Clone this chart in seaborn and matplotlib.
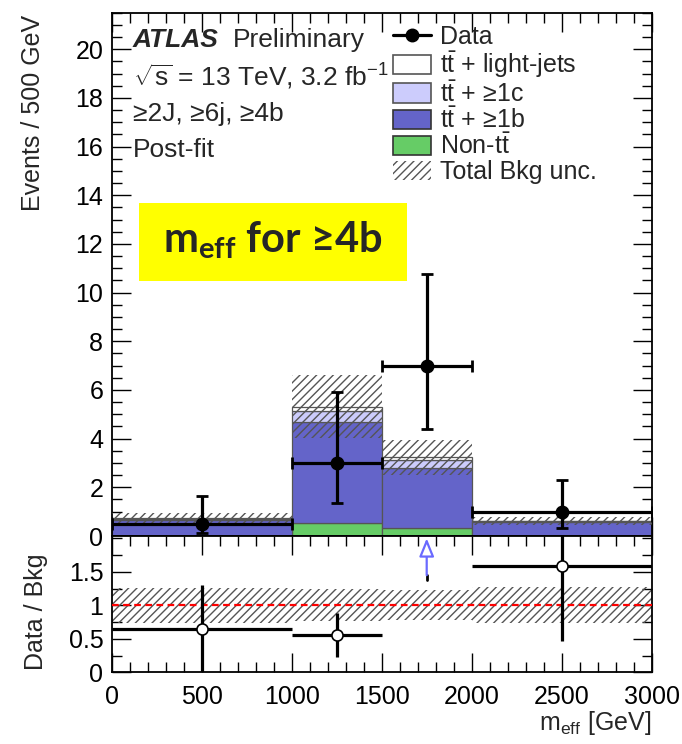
import numpy as np
import pandas as pd
import seaborn as sns
import matplotlib
matplotlib.use("Agg")
import matplotlib.pyplot as plt
from matplotlib.patches import Patch, Rectangle
from matplotlib.lines import Line2D
from matplotlib.ticker import MultipleLocator

# ---- data (events / 500 GeV) ----
bin_edges = [0, 1000, 1500, 2000, 3000]
bin_centers = [500, 1250, 1750, 2500]
components = ["ttlight", "tt1c", "tt1b", "nontt"]   # top -> bottom of the stack
non_tt = [0.02, 0.52, 0.34, 0.02]
tt_1b = [0.62, 4.15, 2.46, 0.56]
tt_1c = [0.06, 0.47, 0.34, 0.03]
tt_light = [0.04, 0.18, 0.09, 0.02]
bkg_unc = [0.19, 1.28, 0.72, 0.17]

data_y = [0.5, 3.0, 7.0, 1.0]
data_lo = [0.11, 1.36, 4.4, 0.34]
data_hi = [1.66, 5.9, 10.75, 2.32]

# ratio panel points (bin 3 is off scale -> arrow)
ratio_x = [500, 1250, 2500]
ratio_xlo = [0, 1000, 2000]
ratio_xhi = [1000, 1500, 3000]
ratio_y = [0.65, 0.55, 1.58]
ratio_lo = [0.0, 0.23, 0.47]
ratio_hi = [1.31, 0.88, 2.6]
arrow_x = 1750
arrow_base = 1.38

# ---- style ----
sns.set_style("ticks")
plt.rcParams["font.family"] = ["Liberation Sans", "DejaVu Sans"]
plt.rcParams["mathtext.fontset"] = "custom"
plt.rcParams["mathtext.rm"] = "Liberation Sans"
plt.rcParams["mathtext.it"] = "Liberation Sans:italic"
plt.rcParams["mathtext.bf"] = "Lato:bold"
plt.rcParams["hatch.linewidth"] = 1.0
plt.rcParams["hatch.color"] = "#555555"

FS = 18
c_light, c_1c, c_1b, c_non = "#ffffff", "#ccccfc", "#6464c9", "#66cc66"
palette = {"ttlight": c_light, "tt1c": c_1c, "tt1b": c_1b, "nontt": c_non}

fig = plt.figure(figsize=(6.82, 7.44), dpi=100)
L, W = 111.7 / 682, 540 / 682
ax1 = fig.add_axes([L, 1 - 536 / 744, W, (536 - 12.7) / 744])
ax2 = fig.add_axes([L, 1 - 672.3 / 744, W, (672.3 - 536) / 744])

# ---- stacked backgrounds ----
rows = []
for comp, vals in zip(components, [tt_light, tt_1c, tt_1b, non_tt]):
    for xc, v in zip(bin_centers, vals):
        rows.append({"m": xc, "w": v, "comp": comp})
df = pd.DataFrame(rows)
sns.histplot(data=df, x="m", weights="w", hue="comp", hue_order=components,
             multiple="stack", bins=bin_edges, element="bars", palette=palette,
             alpha=1, edgecolor="#555555", linewidth=0.9, legend=False, ax=ax1)

total = np.array(non_tt) + np.array(tt_1b) + np.array(tt_1c) + np.array(tt_light)
unc = np.array(bkg_unc)
ax1.stairs(total + unc, bin_edges, baseline=total - unc, fill=True,
           facecolor="none", edgecolor="#555555", linewidth=0, hatch="////", zorder=3)

# ---- data ----
dy = np.array(data_y)
xerr = [np.array(bin_centers) - np.array(bin_edges[:-1]),
        np.array(bin_edges[1:]) - np.array(bin_centers)]
yerr = [dy - np.array(data_lo), np.array(data_hi) - dy]
ax1.errorbar(bin_centers, dy, xerr=xerr, yerr=yerr, fmt="o", color="black",
             ms=9, elinewidth=2.3, capsize=4, capthick=2.0, zorder=5)

ax1.set_xlim(0, 3000)
ax1.set_ylim(0, 21.5)
ax1.xaxis.set_major_locator(MultipleLocator(500))
ax1.xaxis.set_minor_locator(MultipleLocator(100))
ax1.yaxis.set_major_locator(MultipleLocator(2))
ax1.yaxis.set_minor_locator(MultipleLocator(0.5))
ax1.tick_params(labelbottom=False)
ax1.set_xlabel("")
ax1.set_ylabel("")

# ---- ratio ----
ry = np.array(ratio_y)
rxerr = [np.array(ratio_x) - np.array(ratio_xlo), np.array(ratio_xhi) - np.array(ratio_x)]
ryerr = [ry - np.array(ratio_lo), np.array(ratio_hi) - ry]
rel = unc / total
ax2.stairs(1 + rel, bin_edges, baseline=1 - rel, fill=True, facecolor="none",
           edgecolor="#555555", linewidth=0, hatch="////", zorder=2)
ax2.axhline(1, color="red", lw=1.6, ls=(0, (3, 2)), zorder=3)
ax2.errorbar(ratio_x, ry, xerr=rxerr, yerr=ryerr, fmt="o", mfc="white", mec="black",
             mew=1.2, ms=8, color="black", elinewidth=2.3, capsize=0, zorder=5)
ax2.plot([arrow_x, arrow_x], [arrow_base, 1.46], color="black", lw=2.0, zorder=5)
ax2.annotate("", xy=(arrow_x, 2.0), xytext=(arrow_x, 1.45),
             arrowprops=dict(arrowstyle="-|>,head_width=0.45,head_length=1.1",
                             color="#6a6aff", fc="white", lw=1.6,
                             shrinkA=0, shrinkB=0), zorder=5)
ax2.set_xlim(0, 3000)
ax2.set_ylim(0, 2.035)
ax2.xaxis.set_major_locator(MultipleLocator(500))
ax2.xaxis.set_minor_locator(MultipleLocator(100))
ax2.set_yticks([0, 0.5, 1, 1.5])
ax2.set_yticklabels(["0", "0.5", "1", "1.5"])
ax2.yaxis.set_minor_locator(MultipleLocator(0.25))

for ax in (ax1, ax2):
    ax.tick_params(which="both", direction="in", top=True, right=True,
                   labelsize=FS, colors="black")
    ax.tick_params(which="major", length=14, width=1.0, pad=6)
    ax.tick_params(which="minor", length=7, width=1.0)
    for s in ax.spines.values():
        s.set_linewidth(1.3)
        s.set_color("black")
ax2.tick_params(axis="x", which="major", pad=9)

# ---- labels ----
fig.text(33 / 682, 1 - 15 / 744, "Events / 500 GeV", rotation=90, ha="center",
         va="top", fontsize=FS)
fig.text(36 / 682, 1 - 612 / 744, "Data / Bkg", rotation=90, ha="center",
         va="center", fontsize=FS)
fig.text(651 / 682, 1 - 723 / 744, r"$\mathrm{m_{eff}}$ [GeV]", ha="right",
         va="center", fontsize=FS)

fig.text(133 / 682, 1 - 40 / 744, "ATLAS", fontsize=19, fontweight="bold",
         fontstyle="italic", va="center")
fig.text(233 / 682, 1 - 40 / 744, "Preliminary", fontsize=19, va="center")
fig.text(133 / 682, 1 - 77 / 744, r"$\sqrt{\mathrm{s}}$ = 13 TeV, 3.2 fb$^{\mathrm{-1}}$",
         fontsize=19, va="center")
fig.text(133 / 682, 1 - 114 / 744, "≥2J, ≥6j, ≥4b", fontsize=19, va="center")
fig.text(133 / 682, 1 - 150 / 744, "Post-fit", fontsize=19, va="center")

# ---- highlight box ----
fig.patches.append(Rectangle((139 / 682, 1 - 281 / 744), 268 / 682, 78 / 744,
                             transform=fig.transFigure, facecolor="#ffff00",
                             edgecolor="none", zorder=10))
fig.text(273 / 682, 1 - 240 / 744, r"$\mathbf{m_{eff}}$ for ≥4b", fontsize=30,
         family=["Lato", "DejaVu Sans"], fontweight="bold", ha="center",
         va="center", zorder=11)

# ---- legend ----
tt = r"$\mathrm{t\bar{t}}$"
handles = [
    Line2D([], [], color="black", marker="o", ms=9, lw=2.3),
    Patch(facecolor=c_light, edgecolor="#555555", lw=1.2),
    Patch(facecolor=c_1c, edgecolor="#555555", lw=1.2),
    Patch(facecolor=c_1b, edgecolor="#333333", lw=1.2),
    Patch(facecolor=c_non, edgecolor="#333333", lw=1.2),
    Patch(facecolor="none", edgecolor="#555555", lw=0, hatch="////"),
]
labels = ["Data", tt + " + light-jets", tt + " + ≥1c", tt + " + ≥1b",
          "Non-" + tt, "Total Bkg unc."]
ax1.legend(handles, labels, loc="upper left", bbox_to_anchor=(393 / 682, 1 - 25 / 744),
           bbox_transform=fig.transFigure, frameon=False, fontsize=FS,
           handlelength=1.52, handleheight=0.8, handletextpad=0.35,
           labelspacing=0.02, borderpad=0, borderaxespad=0)

fig.savefig("out.png", dpi=100)
